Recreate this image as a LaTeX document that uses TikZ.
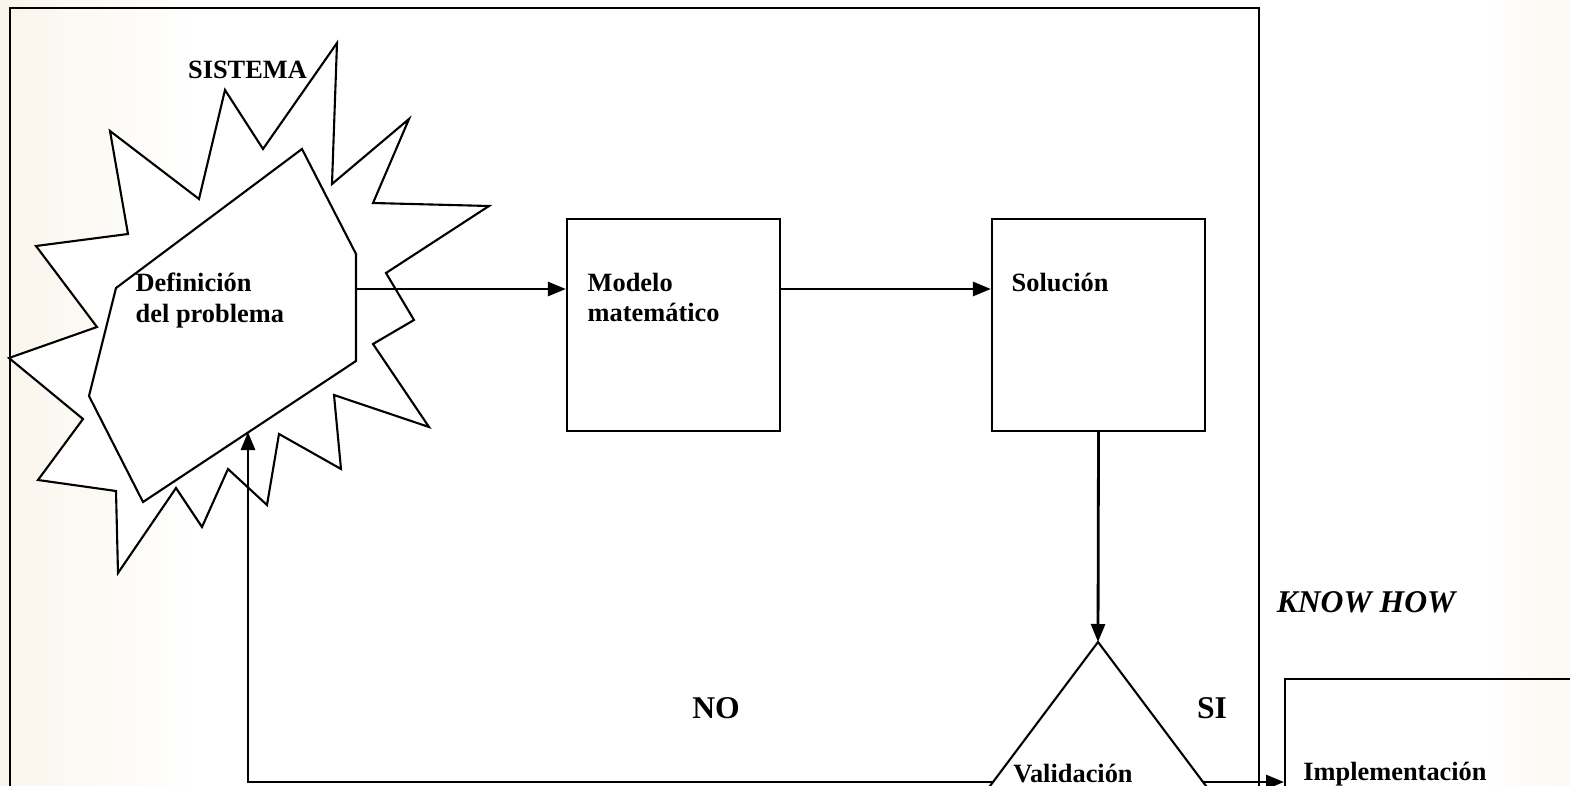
\documentclass[tikz,border=0pt]{standalone}
\usepackage{fontspec}
\setmainfont{Liberation Serif}
\usetikzlibrary{arrows.meta}
\definecolor{crema}{RGB}{250,245,236}
\tikzset{
  linea/.style={line width=0.6pt, line join=miter},
  caja/.style={draw, line width=0.6pt, inner sep=0pt, minimum width=2.13cm, minimum height=2.12cm},
  texto/.style={font=\bfseries\fontsize{7.5pt}{8.8pt}\selectfont, align=left, inner sep=0pt},
  grande/.style={font=\bfseries\fontsize{9pt}{10pt}\selectfont, inner sep=0pt},
  flecha/.style={line width=0.8pt, -{Triangle[length=0.18cm,width=0.14cm]}}
}

\begin{document}
\begin{tikzpicture}[x=0.01cm, y=-0.01cm]
  \useasboundingbox (0,0) rectangle (1570,785);
  \clip (0,0) rectangle (1570,785);
  % fondo
  \shade[left color=crema, right color=white] (0,0) rectangle (200,785);
  \shade[left color=white, right color=crema!70] (1480,0) rectangle (1570,785);

  % marco exterior
  \draw[linea] (10,800) -- (10,8) -- (1259,8) -- (1259,800);

  % sistema
  \draw[linea, fill=white] (337,43) -- (332,184) -- (409,119) -- (373,203) -- (489,206)
    -- (386,273) -- (414,320) -- (373,344) -- (429,427) -- (334,395) -- (341,469)
    -- (279,434) -- (267,505) -- (228,469) -- (202,527) -- (176,488) -- (118,573)
    -- (116,491) -- (38,480) -- (83,419) -- (9,358) -- (97,327) -- (36,246)
    -- (128,234) -- (110,131) -- (199,199) -- (225,90) -- (263,149) -- cycle;
  \draw[linea, fill=white] (302,149) -- (356,254) -- (356,361) -- (143,502)
    -- (89,396) -- (116,288) -- cycle;
  \coordinate (pd) at (356,289);
  \coordinate (pb) at (248,432);
  \node[texto] (sistema) at (247.5,70) {SISTEMA};
  \node[texto, anchor=north west] (definicion) at (135,272) {Definición\\del problema};

  % cajas
  \node[caja] (modelo) at (673.5,325) {};
  \node[caja] (solucion) at (1098.5,325) {};
  \node[texto, anchor=north west] (tmodelo) at (587,272) {Modelo\\matemático};
  \node[texto, anchor=north west] (tsolucion) at (1011,272) {Solución};

  % validacion
  \coordinate (vtop) at (1098,642);
  \coordinate (vizq) at (993,782);
  \coordinate (vder) at (1203,782);
  \draw[linea] (975,806) -- (vtop) -- (1221,806);
  \node[texto] (validacion) at (1073,774) {Validación};

  % implementacion
  \node[caja, anchor=north west, minimum width=3.2cm] (impl) at (1284,678) {};
  \node[texto] (timpl) at (1395,774) {Implementación};

  % conexiones
  \draw[flecha] (pd) -- (pd -| modelo.west);
  \draw[flecha] (modelo.east |- pd) -- (solucion.west |- pd);
  \draw[flecha] (solucion.south) -- (vtop);
  \draw[flecha] (vizq) -- (pb |- vizq) -- (pb);
  \draw[flecha] (vder) -- (vder -| impl.west);

  \node[grande] (no) at (716,708) {NO};
  \node[grande] (si) at (1212,708) {SI};
  \node[grande, font=\bfseries\itshape\fontsize{9pt}{10pt}\selectfont] (knowhow) at (1366,602) {KNOW HOW};
\end{tikzpicture}
\end{document}
